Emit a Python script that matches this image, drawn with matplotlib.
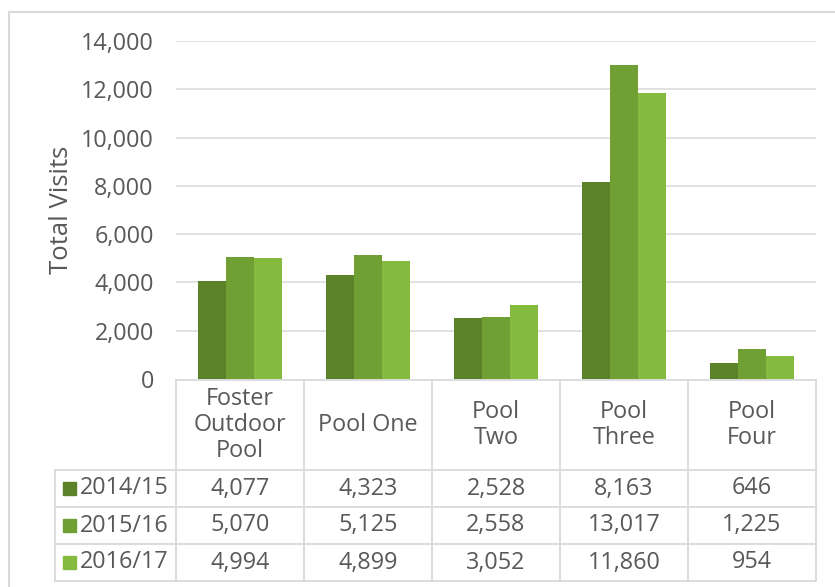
import matplotlib.pyplot as plt
from matplotlib.ticker import FuncFormatter

plt.rcParams['font.family'] = ['Open Sans', 'DejaVu Sans']

pools = ["Foster\nOutdoor\nPool", "Pool One", "Pool\nTwo", "Pool\nThree", "Pool\nFour"]
seasons = ["2014/15", "2015/16", "2016/17"]
visits_1415 = [4077, 4323, 2528, 8163, 646]
visits_1516 = [5070, 5125, 2558, 13017, 1225]
visits_1617 = [4994, 4899, 3052, 11860, 954]
yticks = [0, 2000, 4000, 6000, 8000, 10000, 12000, 14000]

colors = ['#5b8129', '#70a033', '#84ba3d']
grid_c = '#d9d9d9'
text_c = '#595959'
fs = 16.8

W, H = 835, 587
fig = plt.figure(figsize=(W / 100, H / 100), dpi=100)

# overlay in pixel coords for frame + table
ov = fig.add_axes([0, 0, 1, 1])
ov.set_xlim(0, W)
ov.set_ylim(H, 0)
ov.axis('off')

# bar axes
left, right, top, bottom = 176, 816, 41, 379
ax = fig.add_axes([left / W, 1 - bottom / H, (right - left) / W, (bottom - top) / H])
ax.set_xlim(0, 5)
ax.set_ylim(0, 14000)
bw = 0.221
series = [visits_1415, visits_1516, visits_1617]
for j, vals in enumerate(series):
    xs = [i + 0.5 + (j - 1) * bw for i in range(len(pools))]
    ax.bar(xs, vals, width=bw, color=colors[j], zorder=3)
ax.set_yticks(yticks)
ax.yaxis.set_major_formatter(FuncFormatter(lambda v, p: f"{int(v):,}"))
ax.tick_params(axis='y', length=0, labelsize=fs, labelcolor=text_c, pad=16)
ax.set_xticks([])
for y in yticks[1:]:
    ax.axhline(y, color=grid_c, lw=1.1, zorder=1)
for s in ax.spines.values():
    s.set_visible(False)
ax.patch.set_alpha(0)
ax.set_ylabel("Total Visits", fontsize=18.5, color=text_c, labelpad=5)

# outer frame
ov.plot([9, 9], [H, 12], color=grid_c, lw=1.5)
ov.plot([9, W], [12, 12], color=grid_c, lw=1.5)

# table
col_x = [176, 304, 432, 560, 688, 816]
row_y = [380, 470, 507, 544, 581]
lc = '#d9d9d9'
ov.plot([176, 816], [row_y[0], row_y[0]], color=lc, lw=1.3)
for y in row_y[1:]:
    ov.plot([55, 816], [y, y], color=lc, lw=1.3)
for x in col_x:
    ov.plot([x, x], [row_y[0], row_y[-1]], color=lc, lw=1.3)
ov.plot([55, 55], [row_y[1], row_y[-1]], color=lc, lw=1.3)

for i, name in enumerate(pools):
    cx = (col_x[i] + col_x[i + 1]) / 2
    ov.text(cx, (row_y[0] + row_y[1]) / 2, name, ha='center', va='center',
            fontsize=fs, color=text_c, linespacing=1.13)

for j, vals in enumerate(series):
    cy = (row_y[j + 1] + row_y[j + 2]) / 2
    ov.add_patch(plt.Rectangle((63, cy - 6.5), 13, 13, color=colors[j]))
    ov.text(80, cy, seasons[j], ha='left', va='center', fontsize=fs, color=text_c)
    for i, v in enumerate(vals):
        cx = (col_x[i] + col_x[i + 1]) / 2
        ov.text(cx, cy, f"{v:,}", ha='center', va='center', fontsize=fs, color=text_c)

fig.savefig("out.png", dpi=100)
